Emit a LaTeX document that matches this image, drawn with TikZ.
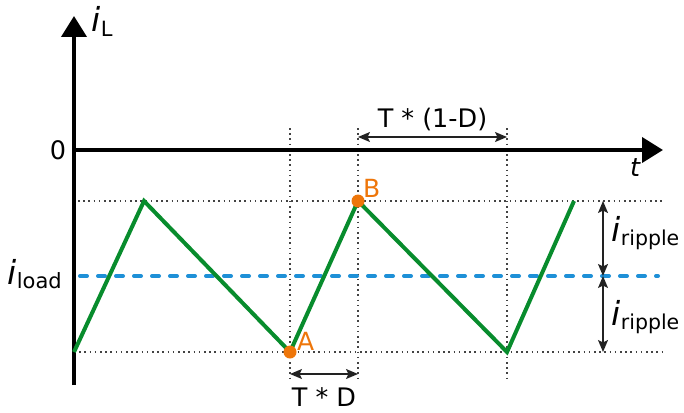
\documentclass[tikz,border=0pt]{standalone}
\usepackage{fontspec}
\setmainfont{DejaVu Sans}
\usetikzlibrary{arrows.meta}
\definecolor{wgreen}{RGB}{8,140,45}
\definecolor{wblue}{RGB}{30,144,215}
\definecolor{worange}{RGB}{238,118,10}
\definecolor{dimgray}{RGB}{34,34,34}
\tikzset{
  axis/.style={line width=4pt,-{Triangle[length=21pt,width=25pt]}},
  guide/.style={line width=1.5pt,dimgray!85,dash pattern=on 1.6pt off 3.6pt},
  dimarrow/.style={line width=1.4pt,dimgray,{Stealth[length=12pt,width=10pt,inset=2.5pt]}-{Stealth[length=12pt,width=10pt,inset=2.5pt]}},
  wave/.style={line width=4pt,wgreen,line join=miter},
  loadline/.style={line width=4pt,wblue,line cap=round,dash pattern=on 7pt off 11pt},
  pt/.style={circle,fill=worange,inner sep=0pt,minimum size=13pt},
  lbl/.style={inner sep=0pt,font=\fontsize{25.5}{28}\selectfont},
  olbl/.style={inner sep=0pt,text=worange,font=\fontsize{25}{28}\selectfont},
}
\newcommand{\curr}[2]{{\fontsize{33}{33}\selectfont\itshape i}\kern0.5pt\raisebox{-4.5pt}{\fontsize{#1}{#1}\selectfont #2}}
\begin{document}
\begin{tikzpicture}[x=1pt,y=-1pt]
\useasboundingbox (0,0) rectangle (684,412);
% key coordinates
\coordinate (w0) at (74,352);
\coordinate (w1) at (144,201);
\coordinate (A) at (290,352);
\coordinate (B) at (358,201);
\coordinate (w4) at (507,352);
\coordinate (w5) at (574,201);
% guides
\coordinate (gt0) at (78,201); \coordinate (gt1) at (662,201);
\coordinate (gb0) at (74,352); \coordinate (gb1) at (662,352);
\draw[guide] (gt0) -- (gt1);
\draw[guide] (gb0) -- (gb1);
\coordinate (v1t) at (290,128); \coordinate (v1b) at (290,382);
\coordinate (v2t) at (358,128); \coordinate (v2b) at (358,382);
\coordinate (v3t) at (507,128); \coordinate (v3b) at (507,382);
\draw[guide] (v1t) -- (v1b);
\draw[guide] (v2t) -- (v2b);
\draw[guide] (v3t) -- (v3b);
% load current
\coordinate (l0) at (80,276); \coordinate (l1) at (658,276);
\draw[loadline] (l0) -- (l1);
% axes
\coordinate (o) at (74,150);
\coordinate (ybot) at (74,385);
\coordinate (ytop) at (74,16);
\coordinate (xend) at (663,150);
\draw[axis] (ybot) -- (ytop);
\draw[axis] (o) -- (xend);
% waveform
\draw[wave] (w0) -- (w1) -- (A) -- (B) -- (w4) -- (w5);
\node[pt] (pA) at (A) {};
\node[pt] (pB) at (B) {};
\node[olbl,anchor=base west] (tA) at (297,350) {A};
\node[olbl,anchor=base west] (tB) at (363,197) {B};
% dimension arrows
\coordinate (d1a) at (358,137); \coordinate (d1b) at (507,137);
\draw[dimarrow] (d1a) -- (d1b);
\node[lbl,anchor=base] (t1d) at (432.5,127) {T * (1-D)};
\coordinate (d2a) at (290,374); \coordinate (d2b) at (358,374);
\draw[dimarrow] (d2a) -- (d2b);
\node[lbl,anchor=base] (td) at (324,406) {T * D};
\coordinate (r0) at (603,201); \coordinate (r1) at (603,276); \coordinate (r2) at (603,352);
\draw[dimarrow] (r0) -- (r1);
\draw[dimarrow] (r1) -- (r2);
% labels
\node[lbl,anchor=base] (zero) at (58,159) {0};
\node[lbl,anchor=base west] (tt) at (630,176) {\itshape t};
\node[inner sep=0pt,anchor=base west] (iL) at (91,32) {\curr{21}{L}};
\node[inner sep=0pt,anchor=base west] (iload) at (7,284) {\curr{21}{load}};
\node[inner sep=0pt,anchor=base west] (ir1) at (611,241) {\curr{20.5}{ripple}};
\node[inner sep=0pt,anchor=base west] (ir2) at (611,325) {\curr{20.5}{ripple}};
\end{tikzpicture}
\end{document}
